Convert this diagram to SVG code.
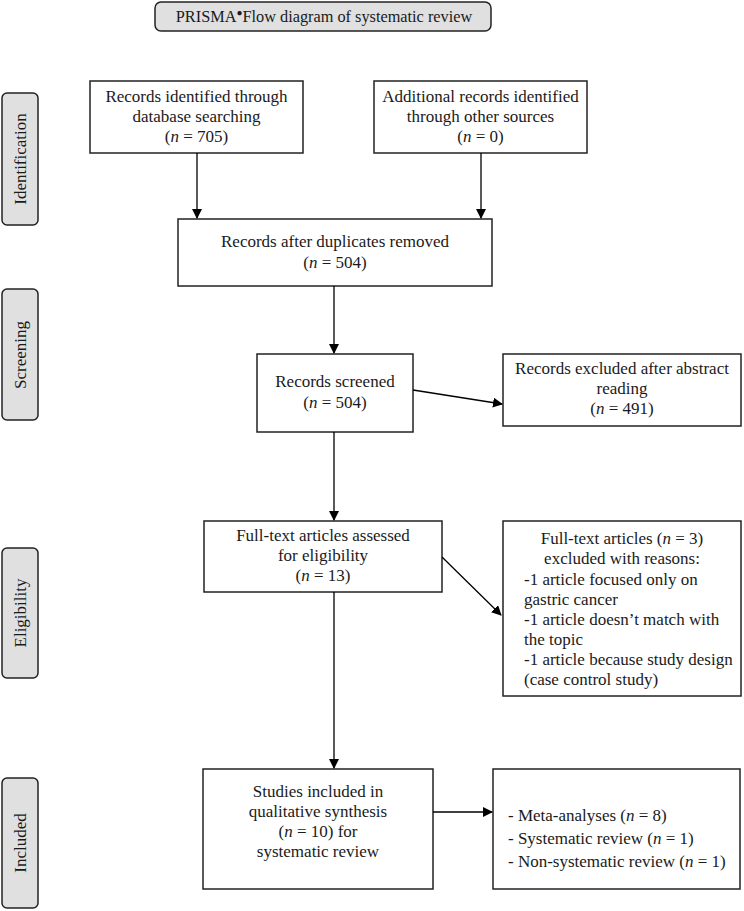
<svg xmlns="http://www.w3.org/2000/svg" width="744" height="911" viewBox="0 0 744 911">
<defs>
<marker id="ah" markerWidth="10" markerHeight="10" refX="9" refY="5" orient="auto" markerUnits="userSpaceOnUse">
<path d="M0,0 L10,5 L0,10 z" fill="#000"/>
</marker>
<style>
text{font-family:"Liberation Serif","Times New Roman",serif;font-size:17px;fill:#1a1a1a}
.c{text-anchor:middle}
.i{font-style:italic}
.box{fill:#fff;stroke:#222;stroke-width:1.5}
.side{fill:#e0e0e0;stroke:#222;stroke-width:1.5}
.ln{stroke:#000;stroke-width:1.3;fill:none;marker-end:url(#ah)}
</style>
</defs>
<rect width="744" height="911" fill="#fff"/>
<g id="title">
<rect x="155" y="2" width="336" height="29" rx="6" class="side"/>
<text x="324" y="22" class="c" style="font-size:16.3px">PRISMA<tspan dy="-6" font-size="10">●</tspan><tspan dy="6">Flow diagram of systematic review</tspan></text>
</g>
<g id="stage-identification">
<rect x="2" y="93" width="36" height="132" rx="5" class="side"/>
<text transform="translate(26,159) rotate(-90)" class="c">Identification</text>
</g>
<g id="stage-screening">
<rect x="2" y="289" width="36" height="131" rx="5" class="side"/>
<text transform="translate(26,355) rotate(-90)" class="c">Screening</text>
</g>
<g id="stage-eligibility">
<rect x="2" y="548" width="36" height="130" rx="5" class="side"/>
<text transform="translate(26,613) rotate(-90)" class="c">Eligibility</text>
</g>
<g id="stage-included">
<rect x="2" y="778" width="36" height="130" rx="5" class="side"/>
<text transform="translate(26,843) rotate(-90)" class="c">Included</text>
</g>
<g id="n1">
<rect x="90" y="81" width="213" height="72" class="box"/>
<text x="196.5" y="102" class="c">Records identified through</text>
<text x="196.5" y="122" class="c">database searching</text>
<text x="196.5" y="142" class="c">(<tspan class="i">n</tspan> = 705)</text>
</g>
<g id="n2">
<rect x="374" y="81" width="213" height="72" class="box"/>
<text x="480.5" y="102" class="c">Additional records identified</text>
<text x="480.5" y="122" class="c">through other sources</text>
<text x="480.5" y="142" class="c">(<tspan class="i">n</tspan> = 0)</text>
</g>
<g id="n3">
<rect x="178" y="219" width="314" height="67" class="box"/>
<text x="335" y="247" class="c">Records after duplicates removed</text>
<text x="335" y="268" class="c">(<tspan class="i">n</tspan> = 504)</text>
</g>
<g id="n4">
<rect x="257" y="354" width="156" height="78" class="box"/>
<text x="335" y="387" class="c">Records screened</text>
<text x="335" y="408" class="c">(<tspan class="i">n</tspan> = 504)</text>
</g>
<g id="n5">
<rect x="503" y="354" width="238" height="72" class="box"/>
<text x="622" y="374" class="c">Records excluded after abstract</text>
<text x="622" y="394" class="c">reading</text>
<text x="622" y="414" class="c">(<tspan class="i">n</tspan> = 491)</text>
</g>
<g id="n6">
<rect x="204" y="521" width="238" height="71" class="box"/>
<text x="323" y="541" class="c">Full-text articles assessed</text>
<text x="323" y="561" class="c">for eligibility</text>
<text x="323" y="581" class="c">(<tspan class="i">n</tspan> = 13)</text>
</g>
<g id="n7">
<rect x="503" y="521" width="238" height="175" class="box"/>
<text x="622" y="544" class="c">Full-text articles (<tspan class="i">n</tspan> = 3)</text>
<text x="622" y="564" class="c">excluded with reasons:</text>
<text x="524" y="585">-1 article focused only on</text>
<text x="524" y="605">gastric cancer</text>
<text x="524" y="625">-1 article doesn’t match with</text>
<text x="524" y="645">the topic</text>
<text x="524" y="665">-1 article because study design</text>
<text x="524" y="685">(case control study)</text>
</g>
<g id="n8">
<rect x="203" y="769" width="230" height="120" class="box"/>
<text x="318" y="797" class="c">Studies included in</text>
<text x="318" y="817" class="c">qualitative synthesis</text>
<text x="318" y="837" class="c">(<tspan class="i">n</tspan> = 10) for</text>
<text x="318" y="857" class="c">systematic review</text>
</g>
<g id="n9">
<rect x="493" y="769" width="247" height="120" class="box"/>
<text x="508" y="821">- Meta-analyses (<tspan class="i">n</tspan> = 8)</text>
<text x="508" y="844">- Systematic review (<tspan class="i">n</tspan> = 1)</text>
<text x="508" y="867">- Non-systematic review (<tspan class="i">n</tspan> = 1)</text>
</g>
<g id="connectors">
<line x1="197" y1="153" x2="197" y2="218" class="ln"/>
<line x1="481" y1="153" x2="481" y2="218" class="ln"/>
<line x1="334" y1="286" x2="334" y2="353" class="ln"/>
<line x1="413" y1="390" x2="502" y2="404" class="ln"/>
<line x1="334" y1="432" x2="334" y2="520" class="ln"/>
<line x1="442" y1="557" x2="501" y2="615" class="ln"/>
<line x1="334" y1="592" x2="334" y2="768" class="ln"/>
<line x1="433" y1="812" x2="492" y2="812" class="ln"/>
</g>
</svg>
